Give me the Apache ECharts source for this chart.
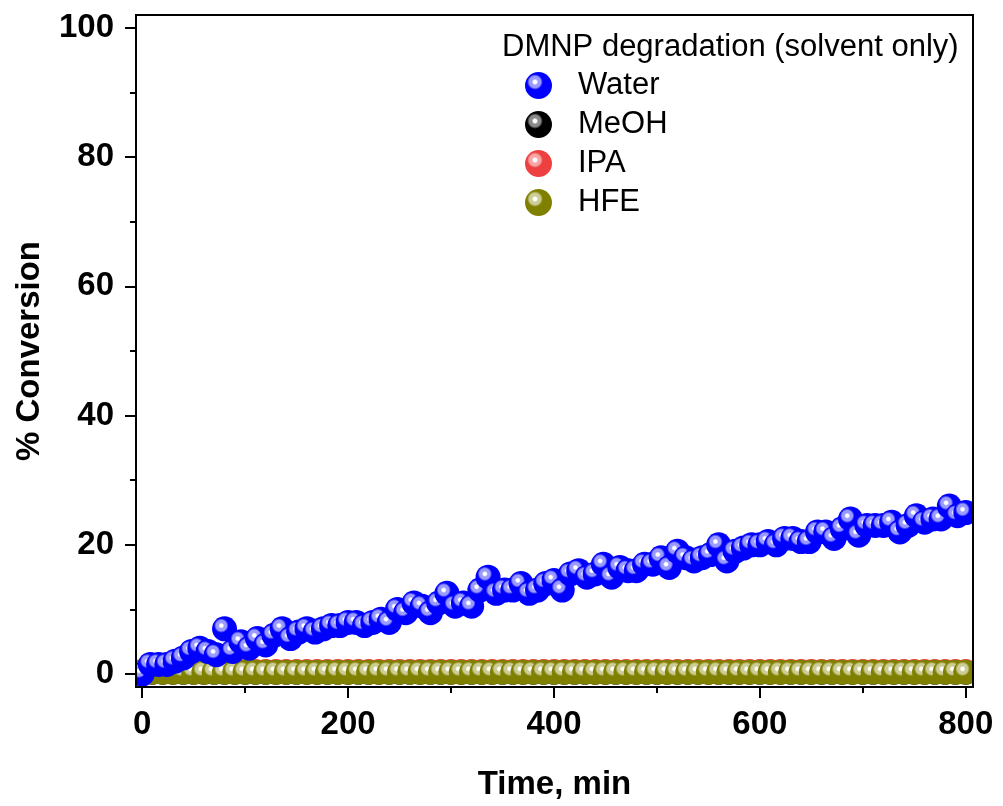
<!DOCTYPE html>
<html>
<head>
<meta charset="utf-8">
<script src="https://cdn.jsdelivr.net/npm/echarts@6/dist/echarts.min.js"></script>
<style>html,body{margin:0;padding:0;background:#fff}#c{width:1003px;height:806px}</style>
</head>
<body>
<div id="c"></div>
<script>
// ---- data ----
const timeWater = [0,8,16,24,32,40,48,56,64,72,80,88,96,104,112,120,128,136,144,152,160,168,176,184,192,200,208,216,224,232,240,248,256,264,272,280,288,296,304,312,320,328,336,344,352,360,368,376,384,392,400,408,416,424,432,440,448,456,464,472,480,488,496,504,512,520,528,536,544,552,560,568,576,584,592,600,608,616,624,632,640,648,656,664,672,680,688,696,704,712,720,728,736,744,752,760,768,776,784,792,800];
const water = [0,1.5,1.5,1.5,2,2.5,3.5,4,3.5,3,7,3.5,5,4,5.5,4.5,6,7,5.5,6.5,7,6.5,7,7.5,7.5,8,8,7.5,8,8.5,8,10,9.5,11,10.5,9.5,11,12.5,10.5,11,10.5,13,15,12.5,13,13,14,12.5,13,14,14.5,13,15.5,16,15,15.5,17,15,16.5,16,16,17,17,18,16.5,19,18,17.5,18,18.5,20,17.5,19,19.5,20,20,20.5,20,21,21,20.5,20.5,22,22,21,22.5,24,21.5,23,23,23,23.5,22,23,24.5,23.5,24,24,26,24.5,25];
const timeSolvent = [0,10,20,30,40,50,60,70,80,90,100,110,120,130,140,150,160,170,180,190,200,210,220,230,240,250,260,270,280,290,300,310,320,330,340,350,360,370,380,390,400,410,420,430,440,450,460,470,480,490,500,510,520,530,540,550,560,570,580,590,600,610,620,630,640,650,660,670,680,690,700,710,720,730,740,750,760,770,780,790,800];
const meoh = [0.3,0.3,0.3,0.3,0.3,0.3,0.3,0.3,0.3,0.3,0.3,0.3,0.3,0.3,0.3,0.3,0.3,0.3,0.3,0.3,0.3,0.3,0.3,0.3,0.3,0.3,0.3,0.3,0.3,0.3,0.3,0.3,0.3,0.3,0.3,0.3,0.3,0.3,0.3,0.3,0.3,0.3,0.3,0.3,0.3,0.3,0.3,0.3,0.3,0.3,0.3,0.3,0.3,0.3,0.3,0.3,0.3,0.3,0.3,0.3,0.3,0.3,0.3,0.3,0.3,0.3,0.3,0.3,0.3,0.3,0.3,0.3,0.3,0.3,0.3,0.3,0.3,0.3,0.3,0.3,0.3];
const ipa = [0.4,0.4,0.4,0.4,0.4,0.4,0.4,0.4,0.4,0.4,0.4,0.4,0.4,0.4,0.4,0.4,0.4,0.4,0.4,0.4,0.4,0.4,0.4,0.4,0.4,0.4,0.4,0.4,0.4,0.4,0.4,0.4,0.4,0.4,0.4,0.4,0.4,0.4,0.4,0.4,0.4,0.4,0.4,0.4,0.4,0.4,0.4,0.4,0.4,0.4,0.4,0.4,0.4,0.4,0.4,0.4,0.4,0.4,0.4,0.4,0.4,0.4,0.4,0.4,0.4,0.4,0.4,0.4,0.4,0.4,0.4,0.4,0.4,0.4,0.4,0.4,0.4,0.4,0.4,0.4,0.4];
const hfe = [0.3,0.3,0.3,0.3,0.3,0.3,0.3,0.3,0.3,0.3,0.3,0.3,0.3,0.3,0.3,0.3,0.3,0.3,0.3,0.3,0.3,0.3,0.3,0.3,0.3,0.3,0.3,0.3,0.3,0.3,0.3,0.3,0.3,0.3,0.3,0.3,0.3,0.3,0.3,0.3,0.3,0.3,0.3,0.3,0.3,0.3,0.3,0.3,0.3,0.3,0.3,0.3,0.3,0.3,0.3,0.3,0.3,0.3,0.3,0.3,0.3,0.3,0.3,0.3,0.3,0.3,0.3,0.3,0.3,0.3,0.3,0.3,0.3,0.3,0.3,0.3,0.3,0.3,0.3,0.3,0.3];
const xMajorTicks = [0,200,400,600,800];
const xMinorTicks = [100,300,500,700];
const yMajorTicks = [0,20,40,60,80,100];
const yMinorTicks = [10,30,50,70,90];
const legendTitle = 'DMNP degradation (solvent only)';

// ---- styling ----
const FONT = "'Liberation Sans', Arial, sans-serif";
function ball(base, light) {
  return {type:'radial', x:0.37, y:0.37, r:0.5, colorStops:[
    {offset:0, color:'#ffffff'},
    {offset:0.12, color:'#ffffff'},
    {offset:0.24, color:light},
    {offset:0.42, color:light},
    {offset:0.58, color:base},
    {offset:1, color:base}
  ]};
}
function pairs(t, v){ return t.map((x,i)=>[x, v[i]]); }

const W = 1003, H = 806;
const G = {left:136, right:30, top:15, bottom:119};
const chart = echarts.init(document.getElementById('c'), null, {renderer:'canvas'});
const xBase = {type:'value', min:-6, max:807, splitLine:{show:false}, z:10};
const yBase = {type:'value', min:-2, max:102, splitLine:{show:false}, z:10};
const SZ = 25;
chart.setOption({
  animation:false,
  backgroundColor:'#fff',
  title:{text:legendTitle, left:497, top:27,
    textStyle:{fontFamily:FONT, fontSize:31, fontWeight:'normal', color:'#000'}},
  legend:{data:['Water','MeOH','IPA','HFE'], orient:'vertical', left:520, top:61, z:10,
    itemWidth:27, itemHeight:27, itemGap:0,
    textStyle:{fontFamily:FONT, fontSize:31, color:'#000', lineHeight:39, padding:[0,0,0,21]}},
  grid:{left:G.left, right:G.right, top:G.top, bottom:G.bottom, show:true, borderColor:'#000', borderWidth:2, backgroundColor:'transparent', z:10},
  // white masks outside the plot frame so markers are clipped at the axes
  graphic:[
    {type:'rect', z:5, silent:true, shape:{x:0, y:H-G.bottom+1, width:W, height:G.bottom}, style:{fill:'#fff'}},
    {type:'rect', z:5, silent:true, shape:{x:0, y:0, width:G.left-1, height:H}, style:{fill:'#fff'}},
    {type:'rect', z:5, silent:true, shape:{x:W-G.right+1, y:0, width:G.right, height:H}, style:{fill:'#fff'}}
  ],
  xAxis:[
    Object.assign({}, xBase, {
      name:'Time, min', nameLocation:'middle', nameGap:81,
      nameTextStyle:{fontFamily:FONT, fontSize:33, fontWeight:'bold', color:'#000'},
      axisLine:{show:true, onZero:false, lineStyle:{color:'#000', width:2}},
      axisTick:{show:true, inside:false, length:11, customValues:xMajorTicks, lineStyle:{color:'#000', width:2}},
      axisLabel:{show:true, customValues:xMajorTicks, margin:21, fontFamily:FONT, fontSize:33, fontWeight:'bold', color:'#000'}
    }),
    Object.assign({}, xBase, {
      position:'bottom', offset:0,
      axisLine:{show:false, onZero:false},
      axisTick:{show:true, inside:false, length:6, customValues:xMinorTicks, lineStyle:{color:'#000', width:2}},
      axisLabel:{show:false}
    })
  ],
  yAxis:[
    Object.assign({}, yBase, {
      name:'% Conversion', nameLocation:'middle', nameGap:90,
      nameTextStyle:{fontFamily:FONT, fontSize:33, fontWeight:'bold', color:'#000'},
      axisLine:{show:true, onZero:false, lineStyle:{color:'#000', width:2}},
      axisTick:{show:true, length:11, customValues:yMajorTicks, lineStyle:{color:'#000', width:2}},
      axisLabel:{show:true, customValues:yMajorTicks, margin:22, fontFamily:FONT, fontSize:33, fontWeight:'bold', color:'#000'}
    }),
    Object.assign({}, yBase, {
      position:'left', offset:0,
      axisLine:{show:false, onZero:false},
      axisTick:{show:true, inside:false, length:6, customValues:yMinorTicks, lineStyle:{color:'#000', width:2}},
      axisLabel:{show:false}
    })
  ],
  series:[
    {name:'MeOH', type:'scatter', symbol:'circle', symbolSize:SZ, z:2, data:pairs(timeSolvent, meoh),
      itemStyle:{color:ball('#000000','#8a8a8a'), opacity:1}},
    {name:'IPA', type:'scatter', symbol:'circle', symbolSize:SZ, z:2, data:pairs(timeSolvent, ipa),
      itemStyle:{color:ball('#ee4040','#f6a6a6'), opacity:1}},
    {name:'HFE', type:'scatter', symbol:'circle', symbolSize:SZ, z:2, data:pairs(timeSolvent, hfe),
      itemStyle:{color:ball('#808000','#cccc96'), opacity:1}},
    {name:'Water', type:'scatter', symbol:'circle', symbolSize:SZ, z:2, data:pairs(timeWater, water),
      itemStyle:{color:ball('#0000ff','#9a9aff'), opacity:1}}
  ]
});
</script>
</body>
</html>
